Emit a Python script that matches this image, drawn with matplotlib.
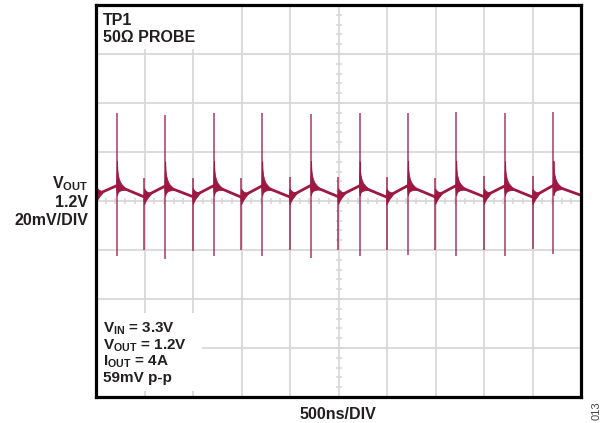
import numpy as np
import matplotlib
matplotlib.use("Agg")
import matplotlib.pyplot as plt
from matplotlib.patches import Rectangle

# fuentes
plt.rcParams['font.family'] = ['Liberation Sans', 'DejaVu Sans']
plt.rcParams['mathtext.fontset'] = 'custom'
plt.rcParams['mathtext.rm'] = 'Liberation Sans:bold'
plt.rcParams['mathtext.it'] = 'Liberation Sans:bold'
plt.rcParams['mathtext.bf'] = 'Liberation Sans:bold'

# datos (tiempo en ns, tension en mV respecto a 1.2V)
big_t = [216, 713, 1216, 1713, 2216, 2718, 3216, 3713, 4216, 4716]
big_top = [36.1, 34.9, 36.1, 36.1, 35.7, 36.1, 36.1, 36.5, 36.1, 36.5]
big_bot = [-22.6, -23.5, -22.6, -22.6, -23.1, -22.6, -22.2, -22.6, -22.6, -21.8]
ripple_peak = [6.3, 6.1, 6.3, 6.2, 6.4, 6.2, 6.3, 6.3, 6.2, 6.4]

low_t = [0, 495, 997, 1495, 1995, 2495, 2995, 3495, 3997, 4500, 4995]
low_top = [1.8, 9.2, 9.2, 9.2, 9.6, 9.6, 9.6, 9.2, 10.0, 10.4, 7.5]
low_bot = [-19.8, -19.8, -20.6, -19.8, -20.2, -20.0, -19.8, -19.8, -20.2, -19.4, -3.5]
ripple_valley = [2.5, 1.7, 1.8, 1.6, 1.7, 1.8, 1.6, 1.7, 1.8, 1.6, 2.4]

# envolvente del ringing tras cada pico (ns, mV)
big_ring_dt = [-8, 0, 4, 10, 20, 35, 55, 80, 110]
big_ring_up = [1.0, 10.0, 6.5, 4.5, 3.0, 1.8, 1.1, 0.5, 0.0]
big_ring_dn = [1.0, 4.0, 3.2, 2.6, 2.0, 1.4, 0.9, 0.4, 0.0]
low_ring_dt = [-5, 0, 8, 20, 35, 55, 75]
low_ring_up = [1.0, 3.5, 2.8, 2.0, 1.3, 0.7, 0.0]
low_ring_dn = [1.0, 3.0, 2.5, 1.8, 1.2, 0.6, 0.0]

trace_color = '#9D1842'
grid_color = '#d6d6d6'
text_color = '#231f20'

W, H = 606, 423


def px(x, y):
    return x / W, 1 - y / H


fig = plt.figure(figsize=(W / 100, H / 100), dpi=100)
ax = fig.add_axes([96 / W, 1 - 397 / H, (581 - 96) / W, (397 - 5) / H])
ax.set_xlim(0, 5000)
ax.set_ylim(-80, 80)
ax.set_xticks(np.arange(0, 5001, 500))
ax.set_yticks(np.arange(-80, 81, 20))
ax.set_axisbelow(True)
ax.grid(True, color=grid_color, lw=1.2)
ax.tick_params(length=0, labelbottom=False, labelleft=False)
for s in ax.spines.values():
    s.set_linewidth(2.3)
    s.set_color('black')
    s.set_zorder(10)

# marcas menores en los ejes centrales
ax.plot(np.arange(100, 5000, 100), np.zeros(49), ls='none', marker='|',
        ms=5, mew=1.1, color=grid_color, zorder=1)
ax.plot(np.full(39, 2500), np.arange(-76, 80, 4), ls='none', marker='_',
        ms=5, mew=1.1, color=grid_color, zorder=1)

# cajas blancas detras de los textos
ax.add_patch(Rectangle((0, 0.8878), 0.2144, 0.12, transform=ax.transAxes,
                       fc='white', ec='none', zorder=1.5))
ax.add_patch(Rectangle((0, 0.0153), 0.2186, 0.199, transform=ax.transAxes,
                       fc='white', ec='none', zorder=1.5))

# traza del rizado
rt, rv = [], []
for i in range(len(big_t)):
    rt += [low_t[i], big_t[i]]
    rv += [ripple_valley[i], ripple_peak[i]]
rt.append(low_t[-1])
rv.append(ripple_valley[-1])

# ringing
for t in big_t:
    tt = t + np.array(big_ring_dt)
    base = np.interp(tt, rt, rv)
    ax.fill_between(tt, base - np.array(big_ring_dn), base + np.array(big_ring_up),
                    color=trace_color, lw=0.6, zorder=3)
for t in low_t:
    tt = t + np.array(low_ring_dt)
    base = np.interp(tt, rt, rv)
    ax.fill_between(tt, base - np.array(low_ring_dn), base + np.array(low_ring_up),
                    color=trace_color, lw=0.6, zorder=3)

ax.plot(rt, rv, color=trace_color, lw=2.0, zorder=4, solid_joinstyle='round')
ax.vlines(big_t, big_bot, big_top, color=trace_color, lw=1.1, alpha=0.85, zorder=4)
ax.vlines(low_t, low_bot, low_top, color=trace_color, lw=1.1, alpha=0.9, zorder=4)

# textos
kw = dict(fontsize=11.5, fontweight='bold', color=text_color)
kw2 = dict(fontsize=11, fontweight='bold', color=text_color)
fig.text(*px(88, 188), r'V$_{\mathrm{OUT}}$', ha='right', va='baseline', **kw)
fig.text(*px(88, 206.5), '1.2V', ha='right', va='baseline', **kw)
fig.text(*px(88, 225), '20mV/DIV', ha='right', va='baseline', **kw)

fig.text(*px(103, 25), 'TP1', ha='left', va='baseline', **kw)
fig.text(*px(103, 41.7), '50Ω PROBE', ha='left', va='baseline', **kw)

fig.text(*px(103, 333), r'V$_{\mathrm{IN}}$ = 3.3V', ha='left', va='baseline', **kw2)
fig.text(*px(103, 349.5), r'V$_{\mathrm{OUT}}$ = 1.2V', ha='left', va='baseline', **kw2)
fig.text(*px(103, 365.5), r'I$_{\mathrm{OUT}}$ = 4A', ha='left', va='baseline', **kw2)
fig.text(*px(103, 381.5), '59mV p-p', ha='left', va='baseline', **kw2)

fig.text(*px(338, 419), '500ns/DIV', ha='center', va='baseline', **kw)
fig.text(*px(596.5, 411), '013', ha='center', va='center', rotation=90,
         fontsize=8, color='#444444')

fig.savefig('out.png', dpi=100)
